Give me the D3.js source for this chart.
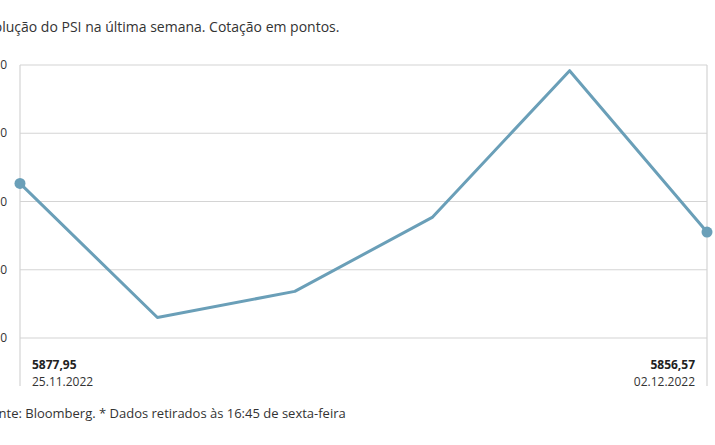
<!DOCTYPE html>
<html><head><meta charset="utf-8">
<script src="https://cdn.jsdelivr.net/npm/d3@7"></script>
<style>body{margin:0;background:#fff}svg{display:block;font-family:"Open Sans",sans-serif}</style>
</head><body><svg id="c" width="715" height="445"></svg>
<script>
const days = ["25.11.2022","28.11.2022","29.11.2022","30.11.2022","01.12.2022","02.12.2022"];
const values = [5877.95, 5819.0, 5830.5, 5863.0, 5927.5, 5856.57];
const ticks = [5810, 5840, 5870, 5900, 5930];
const valueLabels = ["5877,95","5856,57"];

const svg = d3.select("#c");
const x = d3.scalePoint().domain(days).range([20, 707]);
const y = d3.scaleLinear().domain([5810, 5930]).range([338, 65]);

svg.append("text").attr("x", -21).attr("y", 32).attr("font-size", 14).attr("fill", "#333")
  .text("Evolução do PSI na última semana. Cotação em pontos.");

svg.selectAll(".g").data(ticks).join("line")
  .attr("x1", 20).attr("x2", 707).attr("y1", d => y(d)).attr("y2", d => y(d))
  .attr("stroke", "#d4d4d4").attr("stroke-width", 1.2);
svg.selectAll(".t").data(ticks).join("text")
  .attr("x", 7).attr("y", d => y(d) + 4).attr("text-anchor", "end")
  .attr("font-size", 12).attr("fill", "#333").text(d => d);
[20, 707].forEach(xx => svg.append("line").attr("x1", xx).attr("x2", xx)
  .attr("y1", 65).attr("y2", 386).attr("stroke", "#d4d4d4").attr("stroke-width", 1.2));

svg.append("path").datum(values.map((v, i) => [days[i], v]))
  .attr("d", d3.line().x(d => x(d[0])).y(d => y(d[1])))
  .attr("fill", "none").attr("stroke", "#6a9fb8").attr("stroke-width", 3).attr("stroke-linejoin", "round");
[0, values.length - 1].forEach(i => svg.append("circle")
  .attr("cx", x(days[i])).attr("cy", y(values[i])).attr("r", 5.5).attr("fill", "#6a9fb8"));

svg.append("text").attr("x", x(days[0]) + 12).attr("y", 369).attr("font-size", 12).attr("font-weight", "bold").attr("fill", "#222").text(valueLabels[0]);
svg.append("text").attr("x", x(days[0]) + 12).attr("y", 386).attr("font-size", 12).attr("fill", "#333").text(days[0]);
svg.append("text").attr("x", x(days[5]) - 12).attr("y", 369).attr("text-anchor", "end").attr("font-size", 12).attr("font-weight", "bold").attr("fill", "#222").text(valueLabels[1]);
svg.append("text").attr("x", x(days[5]) - 12).attr("y", 386).attr("text-anchor", "end").attr("font-size", 12).attr("fill", "#333").text(days[5]);

svg.append("text").attr("x", -16).attr("y", 418).attr("font-size", 13).attr("fill", "#333")
  .text("Fonte: Bloomberg.  * Dados retirados às 16:45 de sexta-feira");
</script></body></html>
